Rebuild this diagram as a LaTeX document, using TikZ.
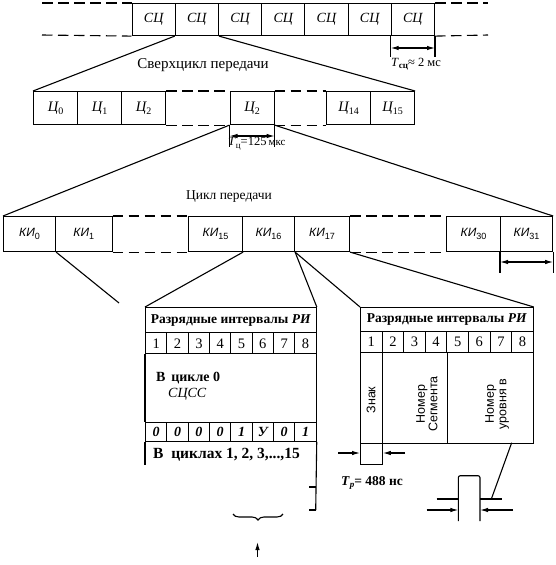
\documentclass[tikz,border=0pt]{standalone}
\usepackage{fontspec}
\setmainfont{Liberation Serif}
\newfontfamily\sansf{Liberation Sans}
\usetikzlibrary{arrows.meta,decorations.pathreplacing}
\newcommand\mysub[2][9]{\raisebox{-0.45ex}{\fontsize{#1}{#1}\selectfont #2}}
\newcommand\fs[1]{\fontsize{#1}{#1}\selectfont}
\begin{document}
\begin{tikzpicture}[x=1pt,y=-1pt,
  lw/.style={line width=1.1pt},
  box/.style={draw, line width=1.1pt, inner sep=0pt, anchor=north west},
  dsh/.style={line width=1.1pt, dash pattern=on 10.5pt off 5.5pt},
  tip/.tip={Latex[length=8pt,width=4.5pt]},
  arr/.style={line width=1.1pt, -tip},
  dim/.style={line width=1.1pt, tip-tip},
  sclab/.style={font=\fs{14}\itshape},
  cylab/.style={font=\fs{14.5}\itshape},
  kilab/.style={font=\fs{12}\sansf\itshape},
  txt/.style={inner sep=0pt, font=\fs{13.5}},
  hdr/.style={font=\fs{13.5}\bfseries},
  dig/.style={box, minimum width=21.33pt, minimum height=21pt, font=\fs{14.5}},
  rdig/.style={box, minimum width=21.59pt, minimum height=21.6pt, font=\fs{14.5}},
  bit/.style={box, minimum width=21.33pt, minimum height=19pt, font=\fs{14}\bfseries\itshape},
  vt/.style={rotate=90, inner sep=0pt, align=center, font=\fs{12.5}\sansf}
]
\useasboundingbox (0,0) rectangle (555,565);

% ---------- row 1 : superframes
\foreach \i in {1,...,7}{
  \node[box, minimum width=43.2pt, minimum height=32pt, sclab] (s\i) at ({131.5+43.2*(\i-1)},3) {СЦ};
}
\coordinate (dl1) at (42,3);  \coordinate (dl2) at (42,35);
\coordinate (dr1) at (488,3); \coordinate (dr2) at (488,35);
\draw[dsh] (dl1) -- (s1.north west);
\draw[dsh] (dl2) -- (s1.south west);
\draw[dsh] (s7.north east) -- (dr1);
\draw[dsh] (s7.south east) -- (dr2);
% T_sc dimension
\coordinate (ts1) at (s7.south west |- 0,57);
\coordinate (ts2) at (s7.south east |- 0,57);
\draw[lw] (s7.south west) -- (ts1);
\draw[lw] (s7.south east) -- (ts2);
\coordinate (ta1) at (s7.south west |- 0,48);
\coordinate (ta2) at (s7.south east |- 0,48);
\draw[dim] (ta1) -- (ta2);
\node[txt, font=\fs{12.5}] (tsc) at (416,64) {\textit{T}\mysub{\bfseries сц}≈ 2 мс};

\node[txt, font=\fs{15}] (sverh) at (203,65) {Сверхцикл передачи};

% ---------- row 2 : cycles
\node[box, minimum width=44pt, minimum height=33pt, cylab] (c0) at (33,91) {Ц\mysub[10]{\upshape 0}};
\node[box, minimum width=44pt, minimum height=33pt, cylab] (c1) at (77,91) {Ц\mysub[10]{\upshape 1}};
\node[box, minimum width=44pt, minimum height=33pt, cylab] (c2) at (121,91) {Ц\mysub[10]{\upshape 2}};
\node[box, minimum width=44pt, minimum height=33pt, cylab] (c2b) at (229.5,91) {Ц\mysub[10]{\upshape 2}};
\node[box, minimum width=44pt, minimum height=33pt, cylab] (c14) at (326,91) {Ц\mysub[10]{\upshape 14}};
\node[box, minimum width=44pt, minimum height=33pt, cylab] (c15) at (370,91) {Ц\mysub[10]{\upshape 15}};
\draw[dsh] (c2.north east) -- (c2b.north west);
\draw[dsh] (c2.south east) -- (c2b.south west);
\draw[dsh] (c2b.north east) -- (c14.north west);
\draw[dsh] (c2b.south east) -- (c14.south west);
\draw[lw] (s2.south west) -- (c0.north west);
\draw[lw] (s2.south east) -- (c15.north east);
% T_c dimension
\coordinate (tc1) at (c2b.south west |- 0,147);
\coordinate (tc2) at (c2b.south east |- 0,147);
\draw[lw] (c2b.south west) -- (tc1);
\draw[lw] (c2b.south east) -- (tc2);
\coordinate (tca1) at (c2b.south west |- 0,136);
\coordinate (tca2) at (c2b.south east |- 0,136);
\draw[dim] (tca1) -- (tca2);
\node[txt, font=\fs{12.5}, anchor=west] (tcl) at (228,144) {\textit{T}\mysub{ц}=125\,{\fs{11}мкс}};

\node[txt, font=\fs{13.5}] (cikl) at (229,197) {Цикл передачи};

% ---------- row 3 : channel intervals
\node[box, minimum width=52pt, minimum height=35pt, kilab] (k0) at (3,216) {КИ\mysub{\upshape 0}};
\node[box, minimum width=56.5pt, minimum height=35pt, kilab] (k1) at (55,216) {КИ\mysub{\upshape 1}};
\node[box, minimum width=54pt, minimum height=35pt, kilab] (k15) at (188,216) {КИ\mysub{\upshape 15}};
\node[box, minimum width=52pt, minimum height=35pt, kilab] (k16) at (242,216) {КИ\mysub{\upshape 16}};
\node[box, minimum width=55pt, minimum height=35pt, kilab] (k17) at (294,216) {КИ\mysub{\upshape 17}};
\node[box, minimum width=54pt, minimum height=35pt, kilab] (k30) at (446,216) {КИ\mysub{\upshape 30}};
\node[box, minimum width=52pt, minimum height=35pt, kilab] (k31) at (500,216) {КИ\mysub{\upshape 31}};
\draw[dsh] (k1.north east) -- (k15.north west);
\draw[dsh] (k1.south east) -- (k15.south west);
\draw[dsh] (k17.north east) -- (k30.north west);
\draw[dsh] (k17.south east) -- (k30.south west);
\draw[lw] (c2b.south west) -- (k0.north west);
\draw[lw] (c2b.south east) -- (k31.north east);
% KI31 dimension
\coordinate (kd1) at (k31.south west |- 0,273);
\coordinate (kd2) at (k31.south east |- 0,273);
\draw[lw] (k31.south west) -- (kd1);
\draw[lw] (k31.south east) -- (kd2);
\coordinate (kda1) at (k31.south west |- 0,262);
\coordinate (kda2) at (k31.south east |- 0,262);
\draw[dim] (kda1) -- (kda2);

% ---------- left detail box (KI16)
\node[box, minimum width=170.7pt, minimum height=25.3pt, hdr] (Lh) at (145,307) {Разрядные интервалы \textit{РИ}};
\foreach \i in {1,...,8}{
  \node[dig] (Ld\i) at ({145+21.33*(\i-1)},332.3) {\i};
}
\foreach \i/\b in {1/0,2/0,3/0,4/0,5/1,6/У,7/0,8/1}{
  \node[bit] (Lb\i) at ({145+21.33*(\i-1)},421.7) {\b};
}
\coordinate (Lbl) at (145,465);
\coordinate (Lbr) at (315.7,510);
\coordinate (Lt1a) at (309,487); \coordinate (Lt1b) at (315.7,487);
\coordinate (Lt2a) at (309,510);
\draw[lw] (Ld1.south west) -- (Lb1.north west);
\draw[lw] (Ld8.south east) -- (Lb8.north east);
\draw[lw] (Lb1.south west) -- (Lbl);
\draw[lw] (Lb8.south east) -- (Lbr);
\draw[lw] (Lt1a) -- (Lt1b);
\draw[lw] (Lt2a) -- (Lbr);
\node[txt, font=\fs{14}\bfseries, anchor=west] (cyc0) at (156,378) {В\, цикле 0};
\node[txt, font=\fs{14}\itshape, anchor=west] (sciss) at (168,394) {СЦСС};
\node[txt, font=\fs{15.5}\bfseries, anchor=west] (cycs) at (153,455) {В\ \ циклах 1, 2, 3,...,15};
\draw[lw] (k15.south east) -- (Lh.north west);
\draw[lw] (k16.south east) -- (Lh.north east);
\coordinate (k0end) at (119,303);
\draw[lw] (k0.south east) -- (k0end);
% brace and arrow
\coordinate (brl) at (233,514);
\coordinate (brr) at (283,514);
\draw[lw, decorate, decoration={brace, mirror, amplitude=6pt}] (brl) -- (brr);
\coordinate (up1) at (257.5,557);
\coordinate (up2) at (257.5,542);
\draw[arr] (up1) -- (up2);

% ---------- right detail box (speech channel)
\node[box, minimum width=172.7pt, minimum height=23.7pt, hdr] (Rh) at (360,307) {Разрядные интервалы \textit{РИ}};
\foreach \i in {1,...,8}{
  \node[rdig] (Rd\i) at ({360+21.59*(\i-1)},330.7) {\i};
}
\node[box, minimum width=21.7pt, minimum height=90.4pt] (Rz) at (360,352.3) {};
\node[box, minimum width=65.6pt, minimum height=90.4pt] (Rs) at (381.7,352.3) {};
\node[box, minimum width=85.4pt, minimum height=90.4pt] (Rl) at (447.3,352.3) {};
\node[box, minimum width=21.7pt, minimum height=21.6pt] (Rzs) at (360,442.7) {};
\node[vt] (tz) at (371,400) {Знак};
\node[vt] (tsg) at (427,404) {Номер\\Сегмента};
\node[vt] (tlv) at (497,404) {Номер\\уровня в};
\draw[lw] (k16.south east) -- (Rh.north west);
\draw[lw] (k17.south east) -- (Rh.north east);
% T_p arrows
\coordinate (tpa) at (338,453);
\coordinate (tpb) at (405,453);
\draw[arr] (tpa) -- (Rzs.west |- tpa);
\draw[arr] (tpb) -- (Rzs.east |- tpb);
\node[txt, font=\fs{13.5}\bfseries] (tpl) at (372,483) {\textit{T}\mysub{\itshape p}= 488 нс};

% pulse
\coordinate (p0) at (436.7,499);
\coordinate (p1) at (458.3,499);
\coordinate (p2) at (458.3,475.7);
\coordinate (p3) at (480,475.7);
\coordinate (p4) at (480,499);
\coordinate (p5) at (502.3,499);
\coordinate (p1b) at (458.3,521);
\coordinate (p4b) at (480,521);
\draw[lw] (p0) -- (p1);
\draw[lw, rounded corners=2pt] (p1b) -- (p2) -- (p3) -- (p4b);
\draw[lw] (p4) -- (p5);
\coordinate (pl) at (491.7,498);
\coordinate (pr) at (511.7,442.7);
\draw[lw] (pr) -- (pl);
\coordinate (pa1) at (426.7,510);
\coordinate (pa2) at (513,510);
\draw[arr] (pa1) -- (p1 |- pa1);
\draw[arr] (pa2) -- (p4 |- pa2);
\end{tikzpicture}
\end{document}
